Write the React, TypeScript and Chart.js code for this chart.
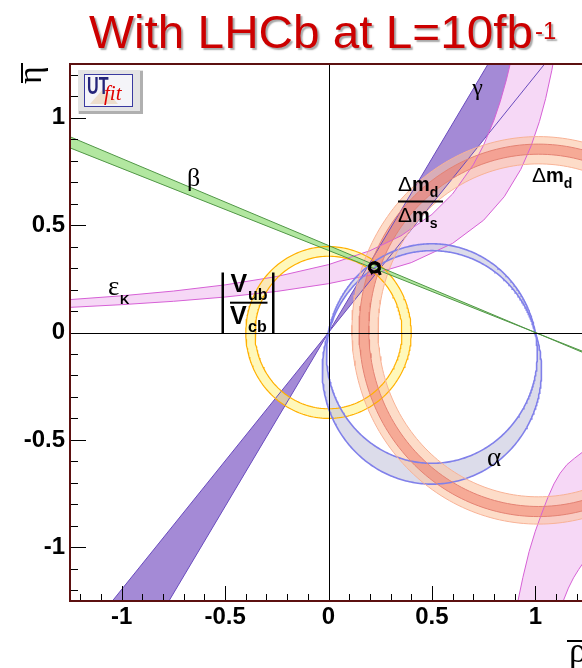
import React, { useEffect, useRef } from 'react';
import { Chart, registerables } from 'chart.js';

Chart.register(...registerables);

// ---------------- data ----------------
const rhoRange = [-1.25, 1.25];
const etaRange = [-1.25, 1.25];
const xTickValues = [-1, -0.5, 0, 0.5, 1];
const xTickLabels = ['-1', '-0.5', '0', '0.5', '1'];
const yTickValues = [-1, -0.5, 0, 0.5, 1];
const yTickLabels = ['-1', '-0.5', '0', '0.5', '1'];
const minorStep = 0.1;

// sin2beta band: lines through (1,0), eta = tan(beta) * (1 - rho)
const betaTan = [0.382, 0.405];
// gamma band: lines through (0,0), eta = tan(gamma) * rho
const gammaTan = [1.196, 1.62];
// |Vub/Vcb| ring around (0,0)
const vubRadii = [0.355, 0.4];
// alpha: arcs through (0,0) and (1,0); highest eta of upper arcs, lowest eta of lower arcs
const alphaUpperTops = [0.381, 0.413];
const alphaLowerBottoms = [-0.609, -0.706];
// Delta m_d and Delta m_d / Delta m_s rings
const dmCenter = [1.015, 0.01];
const dmdRadii = [0.775, 0.902];
const dmsRadii = [0.82, 0.867];
// epsilon_K band (upper branch), two edges
const epsKUpperRho = [-1.25, -1.0, -0.75, -0.5, -0.25, 0.0, 0.2, 0.35, 0.5, 0.6, 0.7, 0.75, 0.8, 0.83, 0.86, 0.88, 0.9];
const epsKUpperEta = [0.1532, 0.1708, 0.1929, 0.2217, 0.2606, 0.316, 0.3807, 0.4499, 0.5497, 0.6451, 0.7807, 0.8723, 0.9883, 1.074, 1.176, 1.2554, 1.3464];
const epsKLowerRho = [-1.25, -1.0, -0.75, -0.5, -0.25, 0.0, 0.2, 0.4, 0.6, 0.75, 0.85, 0.93, 0.98, 1.02, 1.05, 1.08, 1.1];
const epsKLowerEta = [0.117, 0.1296, 0.1452, 0.1651, 0.1912, 0.2273, 0.2676, 0.3253, 0.4149, 0.5227, 0.6323, 0.7597, 0.8692, 0.9824, 1.0888, 1.2211, 1.3286];
// epsilon_K band (lower right region)
const epsK2LeftRho = [0.905, 0.916, 0.94, 0.97, 1.0, 1.03, 1.06, 1.09, 1.12, 1.153, 1.19, 1.227, 1.26];
const epsK2LeftEta = [-1.3, -1.25, -1.14, -1.02, -0.925, -0.845, -0.77, -0.705, -0.655, -0.615, -0.585, -0.558, -0.537];
const epsK2RightRho = [1.125, 1.135, 1.16, 1.185, 1.21, 1.227, 1.26];
const epsK2RightEta = [-1.3, -1.25, -1.19, -1.142, -1.103, -1.079, -1.04];
// combined fit region (apex): loop and small tail
const apexCenter = [0.222, 0.304];
const apexOuter = [0.024, 0.021];
const apexTailRho = [0.238, 0.246, 0.25];
const apexTailEta = [0.289, 0.279, 0.268];

// ---------------- geometry helpers ----------------
type P = { x: number; y: number };
const N = 240;
function arc(cx: number, cy: number, rx: number, ry: number, a0: number, a1: number, n = N): P[] {
  const pts: P[] = [];
  for (let i = 0; i <= n; i++) {
    const a = a0 + ((a1 - a0) * i) / n;
    pts.push({ x: cx + rx * Math.cos(a), y: cy + ry * Math.sin(a) });
  }
  return pts;
}
const circle = (cx: number, cy: number, r: number) => arc(cx, cy, r, r, 0, 2 * Math.PI);
const ring = (cx: number, cy: number, r0: number, r1: number) => [
  ...arc(cx, cy, r1, r1, 0, 2 * Math.PI),
  ...arc(cx, cy, r0, r0, 2 * Math.PI, 0),
];
function chordUpper(top: number): P[] {
  const c = (top * top - 0.25) / (2 * top);
  const r = top - c;
  const th = Math.atan2(-c, 0.5);
  return arc(0.5, c, r, r, th, Math.PI - th);
}
function chordLower(bottom: number): P[] {
  const c = (bottom * bottom - 0.25) / (2 * bottom);
  const r = c - bottom;
  const th = Math.atan2(-c, 0.5);
  return arc(0.5, c, r, r, Math.PI - th, 2 * Math.PI + th);
}
const zip = (xs: number[], ys: number[]): P[] => xs.map((x, i) => ({ x, y: ys[i] }));
const E = 1.5; // extension beyond the frame for straight lines
const gammaLine = (t: number): P[] => [{ x: -E / t, y: -E }, { x: E / t, y: E }];
const betaLine = (t: number): P[] => [{ x: -E, y: t * (1 + E) }, { x: E, y: t * (1 - E) }];

function fillSet(data: P[], color: string) {
  return { data, showLine: true, fill: 'shape', backgroundColor: color, borderColor: 'rgba(0,0,0,0)', borderWidth: 0, pointRadius: 0, tension: 0 };
}
function lineSet(data: P[], color: string, width: number) {
  return { data, showLine: true, fill: false, borderColor: color, backgroundColor: color, borderWidth: width, pointRadius: 0, tension: 0 };
}

function buildDatasets() {
  const paint: any[] = [];
  // fills, bottom to top
  paint.push(fillSet([...gammaLine(gammaTan[0]), ...gammaLine(gammaTan[1]).reverse()], 'rgb(164,138,214)'));
  paint.push(fillSet([...zip(epsKUpperRho, epsKUpperEta), ...zip(epsKLowerRho, epsKLowerEta).reverse()], 'rgb(246,216,246)'));
  paint.push(fillSet([...zip(epsK2LeftRho, epsK2LeftEta), ...zip(epsK2RightRho, epsK2RightEta).reverse()], 'rgb(246,216,246)'));
  paint.push(fillSet(ring(0, 0, vubRadii[0], vubRadii[1]), 'rgba(255,244,140,0.6)'));
  paint.push(fillSet([...chordUpper(alphaUpperTops[1]), ...chordUpper(alphaUpperTops[0]).reverse()], 'rgba(196,196,220,0.6)'));
  paint.push(fillSet([...chordLower(alphaLowerBottoms[0]), ...chordLower(alphaLowerBottoms[1]).reverse()], 'rgba(196,196,220,0.6)'));
  paint.push(fillSet(ring(dmCenter[0], dmCenter[1], dmdRadii[0], dmdRadii[1]), 'rgba(252,196,164,0.6)'));
  paint.push(fillSet(ring(dmCenter[0], dmCenter[1], dmsRadii[0], dmsRadii[1]), 'rgba(240,120,100,0.5)'));
  paint.push(fillSet([...betaLine(betaTan[0]), ...betaLine(betaTan[1]).reverse()], 'rgba(170,228,150,0.9)'));
  // edges
  gammaTan.forEach((t) => paint.push(lineSet(gammaLine(t), 'rgb(105,75,190)', 1)));
  paint.push(lineSet(zip(epsKUpperRho, epsKUpperEta), 'rgb(214,96,214)', 1));
  paint.push(lineSet(zip(epsKLowerRho, epsKLowerEta), 'rgb(214,96,214)', 1));
  paint.push(lineSet(zip(epsK2LeftRho, epsK2LeftEta), 'rgb(214,96,214)', 1));
  paint.push(lineSet(zip(epsK2RightRho, epsK2RightEta), 'rgb(214,96,214)', 1));
  vubRadii.forEach((r) => paint.push(lineSet(circle(0, 0, r), 'rgb(255,176,0)', 1.2)));
  alphaUpperTops.forEach((t) => paint.push(lineSet(chordUpper(t), 'rgb(128,128,234)', 1.6)));
  alphaLowerBottoms.forEach((b) => paint.push(lineSet(chordLower(b), 'rgb(128,128,234)', 1.6)));
  dmdRadii.forEach((r) => paint.push(lineSet(circle(dmCenter[0], dmCenter[1], r), 'rgb(248,178,150)', 1)));
  dmsRadii.forEach((r) => paint.push(lineSet(circle(dmCenter[0], dmCenter[1], r), 'rgb(228,130,115)', 1)));
  betaTan.forEach((t) => paint.push(lineSet(betaLine(t), 'rgb(80,150,70)', 1)));
  // apex
  paint.push(lineSet(arc(apexCenter[0], apexCenter[1], apexOuter[0], apexOuter[1], 0, 2 * Math.PI, 60), '#000', 3));
  paint.push(lineSet(zip(apexTailRho, apexTailEta), '#000', 3));
  return paint.reverse(); // first dataset is drawn on top in Chart.js
}

// ---------------- drawing decorations ----------------
const SANS = '"Liberation Sans", Arial, sans-serif';
const SERIF = '"Liberation Serif", "Times New Roman", serif';
const FRAME = 'rgb(92,16,16)';

function txt(ctx: CanvasRenderingContext2D, s: string, x: number, y: number, font: string, align: CanvasTextAlign = 'left') {
  ctx.font = font;
  ctx.textAlign = align;
  ctx.textBaseline = 'alphabetic';
  ctx.fillText(s, x, y);
  return ctx.measureText(s).width;
}

function deltaM(ctx: CanvasRenderingContext2D, x: number, base: number, sub: string) {
  let w = txt(ctx, 'Δ', x, base, `21px ${SANS}`);
  w += txt(ctx, 'm', x + w, base, `bold 20px ${SANS}`);
  txt(ctx, sub, x + w, base + 6, `bold 14px ${SANS}`);
}

const decorPlugin = {
  id: 'decor',
  afterDatasetsDraw(chart: any) {
    const { ctx, chartArea: a, scales } = chart;
    const xs = scales.x;
    const ys = scales.y;
    ctx.save();
    ctx.strokeStyle = '#000';
    ctx.lineWidth = 1;
    const x0 = Math.round(xs.getPixelForValue(0)) + 0.5;
    const y0 = Math.round(ys.getPixelForValue(0)) + 0.5;
    ctx.beginPath();
    ctx.moveTo(x0, a.top);
    ctx.lineTo(x0, a.bottom);
    ctx.moveTo(a.left, y0);
    ctx.lineTo(a.right, y0);
    ctx.stroke();
    // ticks (inside the frame)
    ctx.beginPath();
    for (let k = -12; k <= 12; k++) {
      const v = k * minorStep;
      const major = k % 5 === 0;
      const px = Math.round(xs.getPixelForValue(v)) + 0.5;
      ctx.moveTo(px, a.bottom);
      ctx.lineTo(px, a.bottom - (major ? 15 : 7));
      const py = Math.round(ys.getPixelForValue(v)) + 0.5;
      ctx.moveTo(a.left, py);
      ctx.lineTo(a.left + (major ? 16 : 8), py);
    }
    ctx.stroke();
    ctx.restore();
  },
  afterDraw(chart: any) {
    const { ctx, chartArea: a } = chart;
    ctx.save();
    // frame
    ctx.strokeStyle = FRAME;
    ctx.lineWidth = 2;
    ctx.beginPath();
    ctx.moveTo(a.right, a.top);
    ctx.lineTo(a.left, a.top);
    ctx.lineTo(a.left, a.bottom);
    ctx.lineTo(a.right, a.bottom);
    ctx.stroke();

    ctx.fillStyle = '#000';
    // greek labels
    txt(ctx, 'γ', 477.5, 95, `24px ${SERIF}`, 'center');
    txt(ctx, 'β', 193.5, 186, `26px ${SERIF}`, 'center');
    txt(ctx, 'α', 494, 466, `27px ${SERIF}`, 'center');
    txt(ctx, 'ε', 108, 295, `27px ${SERIF}`);
    txt(ctx, 'K', 120, 303.5, `bold 13px ${SANS}`);

    // |Vub / Vcb|
    ctx.fillRect(221.5, 272.5, 2.5, 61.5);
    ctx.fillRect(272, 272.5, 2.5, 61.5);
    txt(ctx, 'V', 230.5, 291.5, `bold 25px ${SANS}`);
    txt(ctx, 'ub', 248, 299.5, `bold 16px ${SANS}`);
    ctx.fillRect(230, 301.7, 37.5, 2);
    txt(ctx, 'V', 230, 323.5, `bold 25px ${SANS}`);
    txt(ctx, 'cb', 248, 332, `bold 16px ${SANS}`);

    // Delta m_d / Delta m_s
    deltaM(ctx, 398, 191, 'd');
    ctx.fillRect(398, 200.5, 45, 2);
    deltaM(ctx, 398, 222, 's');
    // Delta m_d
    deltaM(ctx, 532, 182, 'd');

    // axis titles
    ctx.save();
    ctx.translate(41, 84);
    ctx.rotate(-Math.PI / 2);
    txt(ctx, 'η', 0, 0, `34px ${SERIF}`);
    ctx.restore();
    ctx.fillRect(21, 63, 2, 20);
    txt(ctx, 'ρ', 587, 662, `36px ${SERIF}`, 'right');
    ctx.fillRect(567, 640, 20, 2);

    // UTfit logo
    ctx.fillStyle = '#e4e4e4';
    ctx.fillRect(78, 70, 65, 44);
    ctx.fillStyle = '#b0b0b0';
    ctx.fillRect(140, 71, 3, 43);
    ctx.fillRect(79, 111, 64, 3);
    ctx.fillStyle = '#f4f4f8';
    ctx.fillRect(84, 74, 49, 33);
    ctx.strokeStyle = '#3a3aa0';
    ctx.lineWidth = 1;
    ctx.strokeRect(84.5, 74.5, 48, 32);
    ctx.fillStyle = 'rgba(230,200,160,0.5)';
    ctx.beginPath();
    ctx.moveTo(90, 104);
    ctx.lineTo(118, 104);
    ctx.lineTo(104, 88);
    ctx.closePath();
    ctx.fill();
    ctx.save();
    ctx.fillStyle = '#24247a';
    ctx.translate(87, 93.5);
    ctx.scale(0.7, 1);
    txt(ctx, 'UT', 0, 0, `bold 23px ${SANS}`);
    ctx.restore();
    ctx.fillStyle = '#e00000';
    txt(ctx, 'fit', 104, 100, `italic 21px ${SERIF}`);

    // title
    ctx.save();
    ctx.fillStyle = '#cc0000';
    ctx.shadowColor = 'rgba(0,0,0,0.35)';
    ctx.shadowOffsetX = 2;
    ctx.shadowOffsetY = 2;
    ctx.shadowBlur = 1.5;
    ctx.font = `46px ${SANS}`;
    const main = 'With LHCb at L=10fb';
    const w = ctx.measureText(main).width;
    ctx.translate(89, 48);
    ctx.scale(444 / w, 1);
    txt(ctx, main, 0, 0, `46px ${SANS}`);
    ctx.restore();
    ctx.save();
    ctx.fillStyle = '#cc0000';
    ctx.shadowColor = 'rgba(0,0,0,0.35)';
    ctx.shadowOffsetX = 2;
    ctx.shadowOffsetY = 2;
    ctx.shadowBlur = 1.5;
    txt(ctx, '-1', 535, 39, `24px ${SANS}`);
    ctx.restore();

    ctx.restore();
  },
};

const tickFont = { family: '"Liberation Sans", Arial, sans-serif', size: 24, weight: 'bold' as const };

export default function App() {
  const ref = useRef<HTMLCanvasElement>(null);
  useEffect(() => {
    const chart = new Chart(ref.current as HTMLCanvasElement, {
      type: 'scatter',
      data: { datasets: buildDatasets() as any },
      options: {
        animation: false,
        responsive: false,
        maintainAspectRatio: false,
        devicePixelRatio: 1,
        events: [],
        layout: { padding: { top: 64, right: 13, left: 0, bottom: 0 } },
        plugins: { legend: { display: false }, tooltip: { enabled: false }, title: { display: false } },
        scales: {
          x: {
            type: 'linear',
            position: 'bottom',
            min: rhoRange[0],
            max: rhoRange[1],
            grid: { display: false, drawTicks: false },
            border: { display: false },
            ticks: {
              font: tickFont,
              color: '#000',
              padding: 2,
              autoSkip: false,
              maxRotation: 0,
              callback: (v: any) => xTickLabels[xTickValues.indexOf(Number(v))] ?? '',
            },
            afterBuildTicks: (s: any) => {
              s.ticks = xTickValues.map((value) => ({ value }));
            },
            afterFit: (s: any) => {
              s.height = 67;
            },
          },
          y: {
            type: 'linear',
            position: 'left',
            min: etaRange[0],
            max: etaRange[1],
            grid: { display: false, drawTicks: false },
            border: { display: false },
            ticks: {
              font: tickFont,
              color: '#000',
              padding: 5,
              autoSkip: false,
              callback: (v: any) => yTickLabels[yTickValues.indexOf(Number(v))] ?? '',
            },
            afterBuildTicks: (s: any) => {
              s.ticks = yTickValues.map((value) => ({ value }));
            },
            afterFit: (s: any) => {
              s.width = 70;
            },
          },
        },
      },
      plugins: [decorPlugin],
    } as any);
    return () => chart.destroy();
  }, []);
  return (
    <div style={{ position: 'fixed', left: 0, top: 0, width: 582, height: 668, overflow: 'hidden', background: '#fff' }}>
      <canvas ref={ref} width={600} height={668} style={{ display: 'block', width: 600, height: 668 }} />
    </div>
  );
}
